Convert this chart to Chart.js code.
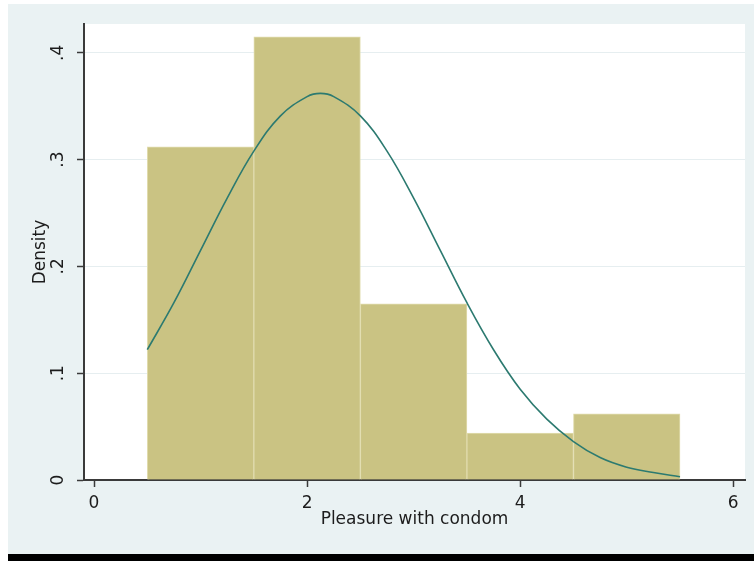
<!DOCTYPE html>
<html>
<head>
<meta charset="utf-8">
<script src="https://cdn.jsdelivr.net/npm/chart.js@4"></script>
<style>
  body { margin: 0; background: #fff; }
  canvas { display: block; }
</style>
</head>
<body>
<canvas id="canvas" width="754" height="561"></canvas>
<script>
// histogram bins (centres) and their densities
const binCenters = [1, 2, 3, 4, 5];
const densities = [0.312, 0.415, 0.165, 0.044, 0.062];

// normal density overlay
const curveX = [0.5, 0.75, 1, 1.25, 1.5, 1.75, 2, 2.125, 2.25, 2.5, 2.75, 3, 3.25, 3.5, 3.75, 4, 4.25, 4.5, 4.75, 5, 5.25, 5.5];
const curveY = [0.122, 0.166, 0.215, 0.264, 0.308, 0.341, 0.359, 0.362, 0.359, 0.341, 0.308, 0.264, 0.215, 0.166, 0.122, 0.085, 0.057, 0.036, 0.021, 0.012, 0.007, 0.003];

const xTicks = [0, 2, 4, 6];
const yTicks = [0, 0.1, 0.2, 0.3, 0.4];
const yTickLabels = ['0', '.1', '.2', '.3', '.4'];

Chart.defaults.font.family = 'DejaVu Sans';
Chart.defaults.color = '#1c1c1c';

const bgPlugin = {
    id: 'bg',
    beforeDraw: function (chart) {
        const c = chart.ctx;
        const a = chart.chartArea;
        c.save();
        c.fillStyle = '#ffffff';
        c.fillRect(0, 0, chart.width, chart.height);
        c.fillStyle = '#eaf2f3';
        c.fillRect(8, 4, chart.width - 8, chart.height - 11);
        c.fillStyle = '#000000';
        c.fillRect(8, chart.height - 7, chart.width - 8, 7);
        c.fillStyle = '#ffffff';
        c.fillRect(a.left, a.top, a.right - a.left, a.bottom - a.top);
        c.restore();
    }
};

const ctx = document.getElementById('canvas').getContext('2d');
const myChart = new Chart(ctx, {
    type: 'bar',
    data: {
        datasets: [{
            type: 'line',
            data: curveX.map(function (x, i) { return { x: x, y: curveY[i] }; }),
            borderColor: '#2c7a70',
            borderWidth: 1.6,
            pointRadius: 0,
            tension: 0.4,
            fill: false,
            order: 0
        }, {
            type: 'bar',
            data: binCenters.map(function (x, i) { return { x: x, y: densities[i] }; }),
            backgroundColor: '#cac383',
            borderColor: '#e1dcae',
            borderWidth: 1,
            barPercentage: 1,
            categoryPercentage: 1,
            order: 1
        }]
    },
    options: {
        responsive: false,
        devicePixelRatio: 1,
        animation: false,
        layout: { padding: { left: 8, right: 9, top: 24, bottom: 7 } },
        plugins: {
            legend: { display: false },
            tooltip: { enabled: false }
        },
        scales: {
            x: {
                type: 'linear',
                min: -0.094,
                max: 6.11,
                offset: false,
                afterBuildTicks: function (scale) {
                    scale.ticks = xTicks.map(function (v) { return { value: v }; });
                },
                afterFit: function (scale) { scale.height = 74; },
                grid: {
                    offset: false,
                    drawOnChartArea: false,
                    tickLength: 7,
                    tickColor: '#3a3a3a',
                    tickWidth: 1.5
                },
                border: { color: '#3a3a3a', width: 2 },
                ticks: {
                    padding: 6,
                    font: { size: 17 },
                    maxRotation: 0,
                    callback: function (v) { return String(v); }
                },
                title: {
                    display: true,
                    text: 'Pleasure with condom',
                    font: { size: 17 },
                    padding: { top: 0, bottom: 24 }
                }
            },
            y: {
                min: 0,
                max: 0.427,
                afterBuildTicks: function (scale) {
                    scale.ticks = yTicks.map(function (v) { return { value: v }; });
                },
                afterFit: function (scale) { scale.width = 76; },
                grid: {
                    offset: false,
                    color: '#e6eef0',
                    lineWidth: 1,
                    tickLength: 7,
                    tickColor: '#3a3a3a',
                    tickWidth: 1.5
                },
                border: { color: '#3a3a3a', width: 2 },
                ticks: {
                    padding: 10,
                    font: { size: 17 },
                    minRotation: 90,
                    maxRotation: 90,
                    crossAlign: 'center',
                    callback: function (v, i) { return yTickLabels[i]; }
                },
                title: {
                    display: true,
                    text: 'Density',
                    font: { size: 17 },
                    padding: { top: 22, bottom: 0 }
                }
            }
        }
    },
    plugins: [bgPlugin]
});
</script>
</body>
</html>
